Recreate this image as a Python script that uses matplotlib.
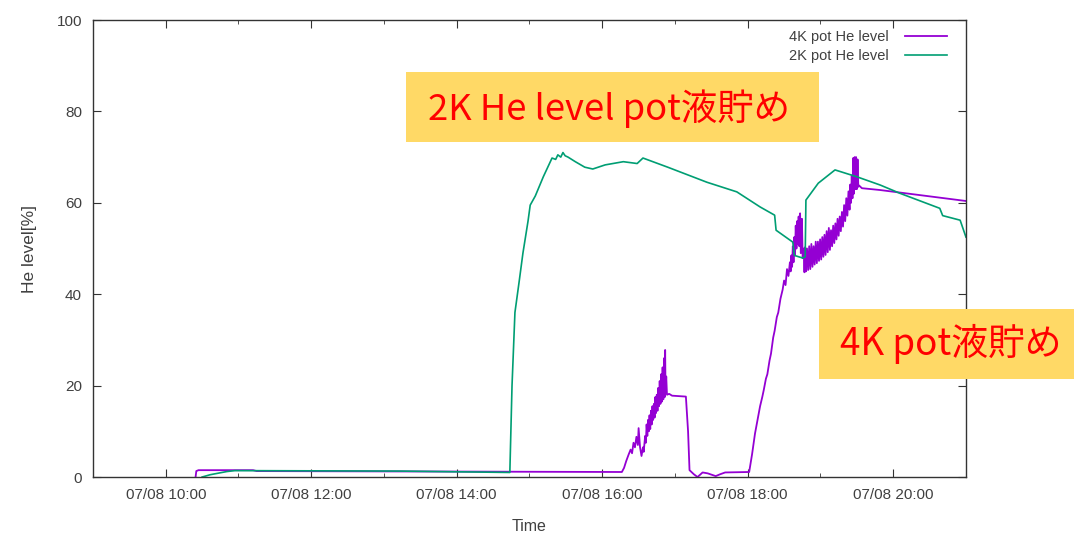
import pandas as pd
import matplotlib.pyplot as plt
import matplotlib.dates as mdates
from matplotlib.patches import Rectangle

# 07/08 log, time in hours of day
t_4k = [10.41, 10.42, 10.45, 11.20, 11.25, 14.00, 16.27,
        16.30, 16.33, 16.36, 16.39, 16.41, 16.43, 16.45, 16.47, 16.49, 16.50,
        16.52, 16.54, 16.56, 16.57, 16.59, 16.60, 16.61, 16.62, 16.63, 16.64,
        16.65, 16.66, 16.67, 16.68, 16.69, 16.70, 16.71, 16.72, 16.73, 16.74,
        16.75, 16.76, 16.77, 16.78, 16.79, 16.80, 16.81, 16.82, 16.83, 16.84,
        16.85, 16.86, 16.865, 16.87, 16.88, 16.89, 16.92, 16.96, 17.15, 17.18,
        17.20, 17.26, 17.31, 17.38, 17.45, 17.56, 17.62, 17.69, 18.02,
        18.06, 18.10, 18.14, 18.17, 18.20, 18.22, 18.25, 18.27, 18.30, 18.32,
        18.35, 18.37, 18.40, 18.42, 18.45, 18.48, 18.50, 18.52, 18.54, 18.56,
        18.58, 18.59, 18.60, 18.61, 18.62, 18.63, 18.64, 18.65, 18.66, 18.67,
        18.68, 18.69, 18.70, 18.71, 18.72, 18.73, 18.745, 18.755,
        18.770, 18.780, 18.790, 18.800, 18.815, 18.830, 18.845, 18.860, 18.875,
        18.890, 18.905, 18.920, 18.935, 18.950, 18.965, 18.980, 18.995, 19.010,
        19.025, 19.040, 19.055, 19.070, 19.085, 19.100, 19.115, 19.130, 19.145,
        19.160, 19.175, 19.190, 19.205, 19.220, 19.235, 19.250, 19.265, 19.280,
        19.295, 19.310, 19.325, 19.340, 19.355, 19.370, 19.385, 19.400, 19.410,
        19.420, 19.430, 19.440, 19.450, 19.460, 19.470, 19.480, 19.490, 19.500,
        19.510, 19.520, 19.530, 19.570, 19.820, 21.000]
v_4k = [0.0, 1.3, 1.5, 1.5, 1.3, 1.2, 1.1,
        2.0, 3.5, 4.8, 6.0, 5.2, 7.5, 6.5, 8.8, 7.0, 10.7,
        6.5, 4.6, 6.5, 5.5, 9.0, 7.5, 11.5, 9.0, 12.5, 10.0,
        13.5, 10.5, 14.5, 11.5, 15.5, 12.5, 16.0, 13.0, 17.5, 14.0,
        18.0, 14.5, 19.5, 15.5, 21.0, 16.0, 22.5, 16.5, 24.0, 17.0,
        26.0, 17.5, 27.8, 19.0, 22.0, 18.0, 18.2, 17.8, 17.6, 10.0,
        1.5, 0.6, 0.0, 1.0, 0.8, 0.2, 0.6, 1.0, 1.1,
        5.0, 9.5, 13.0, 15.5, 17.5, 19.0, 21.5, 22.5, 25.5, 27.0,
        30.5, 32.0, 35.0, 36.0, 39.0, 41.0, 43.0, 42.0, 45.5, 44.0,
        47.0, 45.0, 48.5, 46.0, 50.5, 47.0, 52.5, 48.5, 55.0, 50.0,
        56.0, 51.0, 57.0, 50.5, 57.7, 49.0, 56.5, 47.9,
        50.0, 44.8, 50.3, 45.0, 50.0, 45.3, 50.5, 45.5, 51.0,
        46.0, 50.5, 46.5, 51.5, 46.8, 51.5, 47.3, 52.0, 47.6,
        52.5, 48.2, 53.0, 48.6, 53.8, 49.2, 54.5, 49.7, 54.0,
        50.5, 55.0, 51.2, 55.5, 52.0, 56.5, 52.8, 57.0, 53.8,
        58.0, 54.8, 59.5, 56.0, 61.0, 57.2, 62.5, 58.5, 64.0,
        60.0, 66.0, 61.0, 69.8, 62.0, 70.0, 63.0, 70.0, 63.0,
        69.5, 63.5, 63.8, 63.2, 62.8, 60.4]

t_2k = [10.50, 10.61, 10.84, 10.95, 13.22, 14.73, 14.76, 14.80, 14.86, 14.91,
        14.98, 15.01, 15.08, 15.19, 15.31, 15.36, 15.39, 15.43, 15.46, 15.49,
        15.53, 15.63, 15.76, 15.87, 16.04, 16.29, 16.48, 16.56, 16.90, 17.44,
        17.85, 18.17, 18.37, 18.39, 18.62, 18.64, 18.76, 18.79, 18.80, 18.97,
        19.20, 19.50, 19.82, 20.09, 20.64, 20.68, 20.92, 21.00]
v_2k = [0.0, 0.5, 1.2, 1.4, 1.3, 1.0, 20.0, 36.0, 43.0, 49.0,
        56.0, 59.5, 61.5, 65.7, 69.8, 69.5, 70.5, 70.0, 71.0, 70.3,
        70.0, 69.0, 67.8, 67.4, 68.3, 69.0, 68.6, 69.8, 67.8, 64.5,
        62.4, 59.1, 57.3, 54.0, 51.4, 48.5, 47.9, 48.2, 60.6, 64.3,
        67.2, 65.7, 63.9, 62.1, 58.8, 57.2, 56.2, 52.5]

day = pd.Timestamp("2019-07-08")
to_time = lambda hours: day + pd.to_timedelta(hours, unit="h")

plt.rcParams['font.family'] = ['Liberation Sans', 'DejaVu Sans']
fig = plt.figure(figsize=(10.74, 5.34), dpi=100)
ax = fig.add_axes([0.0866, 0.1067, 0.8128, 0.8558])

ax.plot(to_time(t_4k), v_4k, color="#9400D3", lw=1.3, label="4K pot He level")
ax.plot(to_time(t_2k), v_2k, color="#009E73", lw=1.2, label="2K pot He level")

ax.set_xlim(to_time(9.0), to_time(21.0))
ax.set_ylim(0, 100)
ax.set_yticks([0, 20, 40, 60, 80, 100])
ax.xaxis.set_major_locator(mdates.HourLocator(byhour=range(0, 24, 2)))
ax.xaxis.set_minor_locator(mdates.HourLocator())
ax.xaxis.set_major_formatter(mdates.DateFormatter("%m/%d %H:%M"))
ax.tick_params(which="both", direction="in", top=True, right=True,
               labelsize=11, labelcolor="#404040", color="#333333")
ax.tick_params(which="major", length=6, pad=8)
ax.tick_params(which="minor", length=3)
for s in ax.spines.values():
    s.set_color("#333333")
    s.set_linewidth(1.0)

ax.set_xlabel("Time", fontsize=11.5, color="#404040", labelpad=12)
ax.set_ylabel("He level[%]", fontsize=12.5, color="#404040", labelpad=14)

leg = ax.legend(loc="upper right", bbox_to_anchor=(0.99, 1.0), frameon=False,
                fontsize=10.5, markerfirst=False, handlelength=2.9,
                handletextpad=1.1, borderaxespad=0.3, labelspacing=0.3)
for txt in leg.get_texts():
    txt.set_color("#404040")

# yellow call-out boxes
jp = ['Noto Sans CJK JP', 'DejaVu Sans']
fig.patches.append(Rectangle((0.378, 0.734), 0.3846, 0.131, transform=fig.transFigure,
                             facecolor="#FFD966", edgecolor="none", zorder=5))
fig.text(0.3985, 0.775, "2K He level pot液貯め", family=jp, fontsize=26.2,
         color="#FF0000", zorder=6)
fig.patches.append(Rectangle((0.7626, 0.290), 0.2374, 0.131, transform=fig.transFigure,
                             facecolor="#FFD966", edgecolor="none", zorder=5))
fig.text(0.782, 0.335, "4K pot液貯め", family=jp, fontsize=26.5,
         color="#FF0000", zorder=6)

fig.savefig("out.png", dpi=100)
